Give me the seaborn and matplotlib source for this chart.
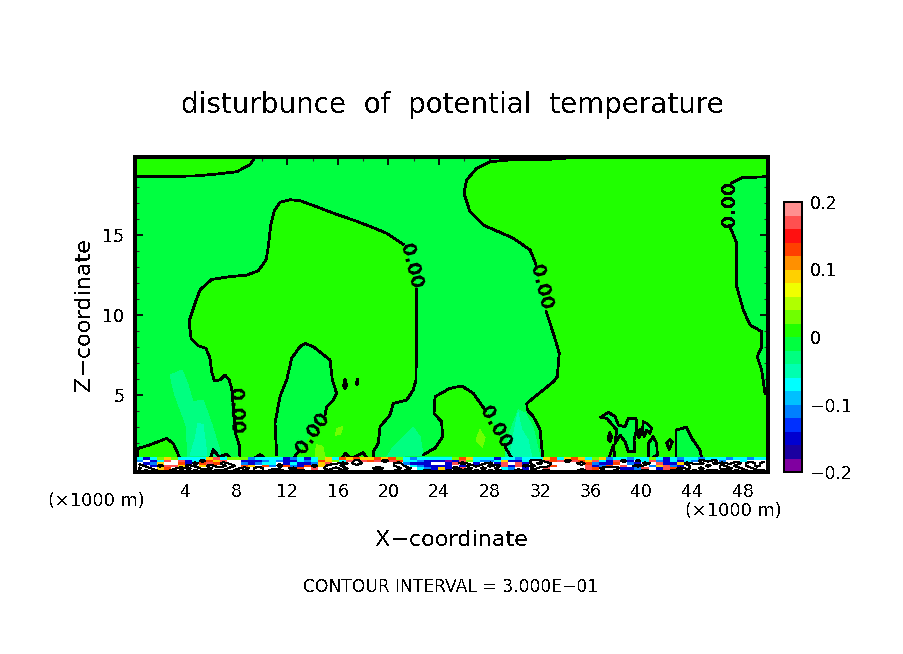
import numpy as np
import pandas as pd
import matplotlib
matplotlib.use("Agg")
import matplotlib.pyplot as plt
from matplotlib.colors import ListedColormap
import seaborn as sns

# colour levels of the shaded field, bottom to top of the colour bar
level_colors = ["#8000a0", "#1a00a0", "#0000d0", "#0030ff", "#0080ff",
                "#00c0ff", "#00ffff", "#00ffb0", "#00ff80", "#00ff40",
                "#20ff00", "#70ff00", "#b0ff00", "#f0ff00", "#ffd000",
                "#ff9000", "#ff4000", "#ff1010", "#ff5050", "#ff9090"]
level_values = [-0.19, -0.17, -0.15, -0.13, -0.11, -0.09, -0.07, -0.05, -0.03, -0.01,
                0.01, 0.03, 0.05, 0.07, 0.09, 0.11, 0.13, 0.15, 0.17, 0.19]
cbar_ticks = [-0.2, -0.1, 0, 0.1, 0.2]
cbar_labels = ["\u22120.2", "\u22120.1", "0", "0.1", "0.2"]
x_ticks = [4, 8, 12, 16, 20, 24, 28, 32, 36, 40, 44, 48]
z_ticks = [5, 10, 15]

# contours of theta' = 0, in km (x, z)
top_left_x = [0.1, 4.6, 6.15, 8.0, 9.05, 9.45]
top_left_z = [18.66, 18.7, 18.8, 18.97, 19.4, 19.87]

blob_left_x = [8.26, 8.2, 7.94, 7.6, 7.41, 7.08, 6.68, 6.23, 6.02, 5.89, 5.57, 4.96, 4.39, 4.23,
               4.7, 5.1, 6.02, 7.47, 8.79, 9.71, 10.32, 10.5, 10.69, 10.97, 11.42, 12.21, 13.0,
               14.32, 15.9, 17.22, 18.8, 19.86, 21.17]
blob_left_z = [1.08, 1.89, 2.51, 5.43, 5.95, 6.26, 5.95, 5.91, 6.47, 7.31, 7.93, 8.09, 8.56, 9.59,
               10.74, 11.58, 12.24, 12.41, 12.51, 12.78, 13.45, 14.28, 15.64, 16.53, 17.06, 17.22, 17.16,
               16.78, 16.3, 15.95, 15.47, 15.12, 14.43]
blob_right_x = [22.23, 22.23, 22.17, 21.96, 21.44, 20.38, 20.12, 19.33, 19.19, 18.8, 18.8]
blob_right_z = [11.62, 9.08, 5.95, 5.33, 4.7, 4.49, 3.76, 3.03, 1.99, 1.47, 0.95]

arch_x = [11.16, 11.03, 11.42, 11.95, 12.35, 13.0, 13.4, 14.06, 15.38, 15.56, 15.9, 15.64, 15.11, 14.98]
arch_z = [1.26, 3.24, 4.91, 5.95, 7.31, 8.03, 8.24, 8.03, 7.2, 5.95, 5.12, 4.7, 4.28, 3.76]
arch_foot_x = [12.87, 12.4]
arch_foot_z = [1.47, 0.95]

bump_x = [22.73, 23.68, 24.28, 24.2, 23.6, 23.68, 24.86, 25.79, 26.7, 27.63]
bump_z = [1.26, 1.7, 2.41, 3.34, 3.87, 4.91, 5.43, 5.58, 5.12, 4.08]
bump_foot_x = [29.21, 29.74]
bump_foot_z = [1.78, 1.08]

mid_upper_x = [35.14, 31.98, 30.0, 28.02, 26.97, 26.18, 25.97, 26.44, 27.49, 29.87, 31.19, 31.66]
mid_upper_z = [19.89, 19.7, 19.74, 19.59, 19.18, 18.45, 17.62, 16.47, 15.64, 14.81, 14.08, 13.18]
mid_lower_x = [32.45, 33.03, 33.5, 33.34, 33.03, 30.93, 30.97, 31.45, 31.98, 32.19]
mid_lower_z = [10.26, 8.87, 7.62, 6.16, 5.84, 4.49, 4.08, 3.66, 2.83, 1.16]

right_upper_x = [49.9, 47.96, 47.13]
right_upper_z = [18.66, 18.59, 18.28]
right_lower_x = [46.94, 47.53, 47.53, 48.05, 48.58, 49.5, 49.5, 49.15, 49.5, 49.76]
right_lower_z = [15.64, 14.49, 11.78, 10.33, 9.39, 8.97, 8.03, 7.41, 6.58, 5.12]

corner_x = [0.1, 0.22, 1.15, 2.47, 2.99, 3.52]
corner_z = [1.05, 1.68, 1.9, 2.3, 1.98, 1.05]

cell_a_x = [36.77, 37.38, 37.91, 38.17, 38.7, 38.96, 39.57, 39.62, 39.41, 39.49, 38.96, 38.7, 38.3, 37.91, 38.04, 37.25, 36.77]
cell_a_z = [3.62, 3.93, 3.66, 3.14, 3.03, 3.56, 3.56, 2.83, 2.2, 1.47, 1.47, 2.09, 2.51, 1.99, 2.83, 3.56, 3.62]
cell_b_x = [40.14, 40.41, 40.8, 40.67, 40.41, 40.2, 40.09, 40.14]
cell_b_z = [3.34, 3.24, 2.93, 2.62, 2.83, 2.41, 2.83, 3.34]
cell_c_x = [40.54, 40.54, 40.93, 41.2, 41.25, 40.8, 40.54]
cell_c_z = [1.06, 1.99, 2.41, 1.99, 1.26, 1.06, 1.06]
cell_d_x = [41.99, 42.25, 42.43, 42.2, 41.99]
cell_d_z = [1.99, 2.24, 2.09, 1.62, 1.99]
cell_e_x = [42.73, 42.73, 43.57, 43.97, 44.62, 44.76]
cell_e_z = [1.06, 2.83, 3.0, 2.31, 1.58, 1.06]
spike_x = [37.38, 37.77, 37.91]
spike_z = [0.95, 1.89, 1.06]
loop_a_x = [16.45, 16.56, 16.7, 16.56, 16.45]
loop_a_z = [5.6, 6.0, 5.6, 5.4, 5.6]
loop_b_x = [17.45, 17.55, 17.6, 17.5, 17.45]
loop_b_z = [5.75, 6.0, 5.8, 5.65, 5.75]
loop_c_x = [37.35, 37.5, 37.65, 37.5, 37.35]
loop_c_z = [2.3, 2.65, 2.4, 2.1, 2.3]
loop_d_x = [39.7, 39.85, 39.95, 39.8, 39.7]
loop_d_z = [2.5, 2.85, 2.55, 2.35, 2.5]
ripple_a_x = [5.9, 6.15, 6.6, 7.2, 7.6]
ripple_a_z = [1.0, 1.6, 1.15, 1.3, 1.0]
ripple_b_x = [9.3, 9.84, 10.3]
ripple_b_z = [1.0, 1.3, 1.0]
ripple_c_x = [16.2, 16.6, 17.0, 17.5, 17.98, 18.4]
ripple_c_z = [1.0, 1.35, 1.05, 1.2, 1.4, 1.0]

contour_lines = [
    (top_left_x, top_left_z), (blob_left_x, blob_left_z), (blob_right_x, blob_right_z),
    (arch_x, arch_z), (arch_foot_x, arch_foot_z), (bump_x, bump_z), (bump_foot_x, bump_foot_z),
    (mid_upper_x, mid_upper_z), (mid_lower_x, mid_lower_z), (right_upper_x, right_upper_z),
    (right_lower_x, right_lower_z), (corner_x, corner_z), (cell_a_x, cell_a_z), (cell_b_x, cell_b_z),
    (cell_c_x, cell_c_z), (cell_d_x, cell_d_z), (cell_e_x, cell_e_z), (spike_x, spike_z),
    (loop_a_x, loop_a_z), (loop_b_x, loop_b_z), (loop_c_x, loop_c_z), (loop_d_x, loop_d_z),
    (ripple_a_x, ripple_a_z), (ripple_b_x, ripple_b_z), (ripple_c_x, ripple_c_z),
]

# contour labels: x, z, rotation
label_x = [7.89, 21.78, 14.03, 28.42, 32.06, 46.96]
label_z = [4.01, 13.08, 2.64, 3.01, 11.76, 16.95]
label_rot = [-88, -76, 55, -60, -76, 90]

# weak plumes above the surface layer
plume_a_x = [2.73, 3.68, 4.15, 4.55, 5.34, 6.05, 6.84, 4.15, 3.99, 3.12]
plume_a_z = [6.26, 6.57, 5.64, 4.58, 4.7, 3.14, 1.08, 1.08, 3.14, 5.01]
plume_a2_x = [4.94, 5.34, 5.65, 4.31, 4.7]
plume_a2_z = [3.26, 3.14, 1.26, 1.26, 2.2]
plume_b_x = [29.87, 30.26, 30.79, 31.42, 31.98, 29.21, 29.45]
plume_b_z = [3.26, 4.08, 3.89, 3.01, 1.14, 1.14, 2.39]
plume_b2_x = [30.24, 30.53, 31.03, 31.32, 29.6, 29.84]
plume_b2_z = [3.89, 2.83, 2.2, 1.14, 1.14, 2.39]
plume_c_x = [21.94, 22.49, 22.73, 19.88, 20.36]
plume_c_z = [3.01, 2.39, 1.26, 1.14, 1.76]
warm_a_x = [27.23, 27.63, 27.4, 26.92]
warm_a_z = [2.83, 2.33, 1.76, 2.2]
warm_b_x = [15.9, 16.4, 16.2, 15.8]
warm_b_z = [2.9, 3.05, 2.55, 2.5]
warm_c_x = [14.3, 14.8, 15.0, 14.2]
warm_c_z = [1.9, 1.8, 1.1, 1.1]

# surface layer, top row first, one letter per cell (about 0.55 km wide)
band_codes = {"W": 0.9, "w": 0.45, "r": 0.17, "o": 0.13, "y": 0.09, "g": 0.03,
              "c": -0.07, "l": -0.11, "b": -0.15, "p": -0.19}
band_row0 = "cbcgygcccc yrcggglccc cblcbcgyco yoyyoyogcl cccccgoycc cbcclcccyo cyoycgylcc lccgcbclcc lccclcclcc"
band_row1 = "lwbcrwrbcW oyrwwbbblc lbbclcoygc rWrorWrocc lbbbpbrgcl lcybbcWWro rWroyrcbrW bWcrlbcbcl WwWlwwcwww"
band_row2 = "wblywwobWo roWwwlblcc wbcbblyrwW wWwwwwwWlb bbwwbrWwbw WbrwrbWwWw wwwWolbbow lbWwrbbyWw wWwWwWwWwW"
band_row3 = "WwbWrryWwy WwwWwoywol WolboWyWWw wwwwwwwWwc lbbbbwbWwW wWrbrWwWWo wwwwrblowr wWwlyrlbwW WwWwWwwWwW"
band_row4 = "wWwyowWwWw wWWwwWwWww wwWowrwWwW wwwwWwwwWw clbybWrwWw WwclwbWwrw wwwwroWWWb blrwbroWwW wWWwwWwwWW"
band_row5 = "WwWwwWwWwW WwwwWwwWwW WwwWwwwwww wwwwwwwWww wWwoWwWWwW wWwwWwwwWr wwwWwrwWrl cwWwroWwWw WwwWWwWwww"
band_rows = [band_row0, band_row1, band_row2, band_row3, band_row4, band_row5]

W, H = 904, 654


def px_box(x0, y0, x1, y1):
    # pixel box (top-left origin) to a figure rectangle
    return [x0 / W, 1 - y1 / H, (x1 - x0) / W, (y1 - y0) / H]


def put_text(x, y, s, **kw):
    fig.text(x / W, 1 - y / H, s, ha="center", va="center", color="black", **kw)


sns.set_style("ticks")
plt.rcParams["font.family"] = ["DejaVu Sans"]
plt.rcParams["text.antialiased"] = False
plt.rcParams["lines.antialiased"] = False
plt.rcParams["patch.antialiased"] = False

cmap = ListedColormap(level_colors)
cmap.set_over("white")
cmap.set_under("white")


def shade(v):
    return level_colors[int(np.argmin(np.abs(np.array(level_values) - v)))]


fig = plt.figure(figsize=(W / 100, H / 100), dpi=100, facecolor="white")
ax = fig.add_axes(px_box(135.5, 157, 768, 472), facecolor=shade(-0.01))
ax.set_xlim(0, 50)
ax.set_ylim(0.2, 19.89)

# warm (yellow-green) regions bounded by the zero contour
warm = shade(0.01)
ax.fill(top_left_x + [0.0], top_left_z + [19.89], color=warm, lw=0)
ax.fill(blob_left_x + blob_right_x, blob_left_z + blob_right_z, color=warm, lw=0)
ax.fill(arch_x + arch_foot_x, arch_z + arch_foot_z, color=shade(-0.01), lw=0)
ax.fill(bump_x + bump_foot_x, bump_z + bump_foot_z, color=warm, lw=0)
ax.fill(mid_upper_x + mid_lower_x + [50] + right_lower_x[::-1] + right_upper_x[::-1] + [50, 50],
        mid_upper_z + mid_lower_z + [1.0] + right_lower_z[::-1] + right_upper_z[::-1] + [18.66, 19.89],
        color=warm, lw=0)
ax.fill(corner_x, corner_z, color=warm, lw=0)
for cx, cz in [(cell_a_x, cell_a_z), (cell_c_x, cell_c_z), (cell_e_x, cell_e_z), (cell_b_x, cell_b_z)]:
    ax.fill(cx, cz, color=shade(-0.01), lw=0)

ax.fill(plume_a_x, plume_a_z, color=shade(-0.03), lw=0)
ax.fill(plume_a2_x, plume_a2_z, color=shade(-0.05), lw=0)
ax.fill(plume_b_x, plume_b_z, color=shade(-0.03), lw=0)
ax.fill(plume_b2_x, plume_b2_z, color=shade(-0.05), lw=0)
ax.fill(plume_c_x, plume_c_z, color=shade(-0.03), lw=0)
for wx, wz in [(warm_a_x, warm_a_z), (warm_b_x, warm_b_z), (warm_c_x, warm_c_z)]:
    ax.fill(wx, wz, color=shade(0.03), lw=0)

for cx, cz in contour_lines:
    sns.lineplot(x=cx, y=cz, sort=False, estimator=None, color="black", lw=1.25, ax=ax, legend=False)

for lx, lz, rot in zip(label_x, label_z, label_rot):
    ax.text(lx, lz, "0.00", rotation=rot, rotation_mode="anchor", ha="center", va="center",
            fontsize=13.5, fontweight="bold", color="black")

ax.set_xlabel("")
ax.set_ylabel("")
ax.set_xticks(x_ticks)
ax.set_xticks(np.arange(2, 50, 4), minor=True)
ax.set_yticks(z_ticks)
ax.set_yticks(np.arange(1, 20, 1), minor=True)
ax.tick_params(which="major", direction="in", length=6, width=1.3, top=True, right=True,
               labelsize=12.5, colors="black", pad=8)
ax.tick_params(which="minor", direction="in", length=3, width=0.8, top=True, right=True)
ax.tick_params(axis="y", which="major", pad=8)
for sp in ax.spines.values():
    sp.set_linewidth(1.6)
    sp.set_color("black")

# surface layer as a heatmap, with the 0.3 interval contours on top
band = pd.DataFrame([[band_codes[c] for c in row.replace(" ", "")] for row in band_rows])
ax_band = fig.add_axes(px_box(135.5, 457, 768, 472))
sns.heatmap(band, ax=ax_band, cmap=cmap, vmin=-0.2, vmax=0.2, cbar=False, xticklabels=False, yticklabels=False)
bx = np.arange(band.shape[1]) + 0.5
bz = np.arange(band.shape[0]) + 0.5
ax_band.contour(bx, bz, band.values, levels=[0.6], colors="black", linewidths=0.8)
ax_band.tick_params(left=False, bottom=False)
for name in ["left", "right", "bottom"]:
    ax_band.spines[name].set_visible(True)
    ax_band.spines[name].set_linewidth(1.6)
    ax_band.spines[name].set_color("black")

# colour bar, also a heatmap
cbar_df = pd.DataFrame({"v": level_values[::-1]})
ax_cb = fig.add_axes(px_box(784, 202, 802, 472))
sns.heatmap(cbar_df, ax=ax_cb, cmap=cmap, vmin=-0.2, vmax=0.2, cbar=False, xticklabels=False, yticklabels=False)
ax_cb.yaxis.tick_right()
ax_cb.set_yticks([(0.2 - t) / 0.4 * len(level_values) for t in cbar_ticks])
ax_cb.set_yticklabels(cbar_labels, rotation=0, fontsize=12.5, color="black")
ax_cb.set_xlabel("")
ax_cb.set_ylabel("")
ax_cb.tick_params(left=False, right=False, bottom=False, pad=2)
for sp in ax_cb.spines.values():
    sp.set_visible(True)
    sp.set_linewidth(1.3)
    sp.set_color("black")

put_text(452, 105, "disturbunce  of  potential  temperature", fontsize=20)
put_text(452, 540, "X\u2212coordinate", fontsize=16)
put_text(84, 315, "Z\u2212coordinate", fontsize=16, rotation=90)
put_text(96, 501, "(\u00d71000 m)", fontsize=12.8)
put_text(733, 511, "(\u00d71000 m)", fontsize=12.8)
put_text(451, 587, "CONTOUR INTERVAL = 3.000E\u221201", fontsize=12.3)

fig.savefig("out.png", dpi=100)
